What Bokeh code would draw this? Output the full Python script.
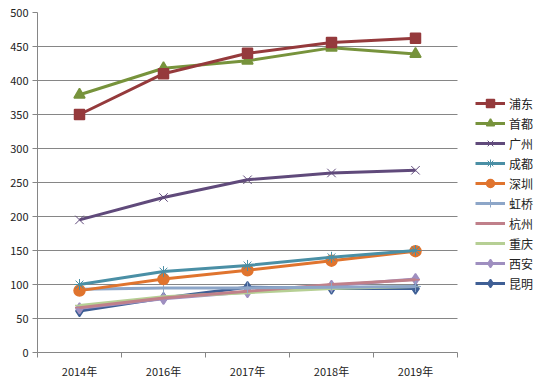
from bokeh.plotting import figure
from bokeh.models import Range1d, FixedTicker, Legend, LegendItem, Grid
from bokeh.embed import file_html
from bokeh.resources import INLINE

years = ["2014年", "2016年", "2017年", "2018年", "2019年"]
names = ["浦东", "首都", "广州", "成都", "深圳", "虹桥", "杭州", "重庆", "西安", "昆明"]
pudong = [350, 410, 440, 456, 462]
shoudu = [379, 418, 429, 448, 439]
guangzhou = [195, 228, 254, 264, 268]
chengdu = [100, 119, 128, 140, 150]
shenzhen = [91, 108, 121, 135, 149]
hongqiao = [93, 95, 95, 96, 97]
hangzhou = [66, 80, 90, 100, 107]
chongqing = [69, 82, 88, 94, 97]
xian = [65, 79, 89, 98, 108]
kunming = [61, 80, 96, 94, 94]
series = [pudong, shoudu, guangzhou, chengdu, shenzhen, hongqiao, hangzhou, chongqing, xian, kunming]
y_ticks = [0, 50, 100, 150, 200, 250, 300, 350, 400, 450, 500]

colors = ["#953A3C", "#77933C", "#604A7B", "#4A8FA5", "#E0742E",
          "#8DA6C8", "#C0808A", "#B6CF94", "#9F8FC0", "#3F5F95"]
markers = ["square", "triangle", "x", "asterisk", "circle",
           "cross", "dash", "dash", "diamond", "diamond"]
msizes = [10, 11, 12, 11, 11, 11, 9, 9, 11, 11]
mwidths = [1.5, 1.5, 1, 1, 1.5, 1, 1.5, 1.5, 1.5, 1.5]

font = "Noto Sans CJK SC"
n = len(years)
# frame spans to the right edge; one extra empty category width hosts the legend
p = figure(width=541, height=385, output_backend="svg", toolbar_location=None,
           x_range=Range1d(0, n + 1), y_range=Range1d(0, 500),
           min_border_left=37, min_border_top=12, min_border_bottom=33, min_border_right=0)
p.outline_line_color = None
p.background_fill_color = "white"

xs = [i + 0.5 for i in range(n)]

p.ygrid.grid_line_color = None
cross_ok = "cross_bounds" in Grid.properties()
if cross_ok:
    p.ygrid.grid_line_color = "#868686"
    p.ygrid.grid_line_width = 1
    p.ygrid.cross_bounds = (0, n)
else:
    p.segment(x0=[0] * len(y_ticks), y0=y_ticks, x1=[n] * len(y_ticks), y1=y_ticks,
              line_color="#868686", line_width=1)

renderers = {}
for i in list(range(len(series)))[::-1]:
    r1 = p.line(xs, series[i], line_color=colors[i], line_width=3)
    r2 = p.scatter(xs, series[i], marker=markers[i], size=msizes[i],
                   fill_color=colors[i], line_color=colors[i], line_width=mwidths[i])
    renderers[i] = [r1, r2]
items = [LegendItem(label=names[i], renderers=renderers[i]) for i in range(len(series))]

legend = Legend(items=items, location=(438, 59), padding=0, margin=0, spacing=0,
                glyph_width=30, glyph_height=20, label_height=20,
                label_standoff=4,
                label_text_font=font, label_text_font_size="12px", label_text_color="#222222",
                background_fill_alpha=0, border_line_color=None)
p.add_layout(legend, "center")

p.xaxis.bounds = (0, n)
p.xaxis.ticker = FixedTicker(ticks=xs, minor_ticks=list(range(n + 1)))
p.xaxis.major_label_overrides = {x: y for x, y in zip(xs, years)}
p.xaxis.major_tick_out = 0
p.xaxis.major_tick_in = 0
p.xaxis.minor_tick_out = 5
p.xaxis.minor_tick_in = 0
p.xaxis.minor_tick_line_color = "#868686"
p.xaxis.axis_line_color = "#868686"
p.xaxis.major_label_standoff = 5
p.xaxis.major_label_text_font = font
p.xaxis.major_label_text_font_size = "11px"
p.xaxis.major_label_text_color = "#222222"
p.xgrid.grid_line_color = None

p.yaxis.ticker = FixedTicker(ticks=y_ticks)
p.yaxis.major_tick_out = 5
p.yaxis.major_tick_in = 0
p.yaxis.minor_tick_line_color = None
p.yaxis.major_tick_line_color = "#868686"
p.yaxis.axis_line_color = "#868686"
p.yaxis.major_label_standoff = 4
p.yaxis.major_label_text_font = font
p.yaxis.major_label_text_font_size = "11px"
p.yaxis.major_label_text_color = "#222222"

open("out.html", "w").write(file_html(p, INLINE))
